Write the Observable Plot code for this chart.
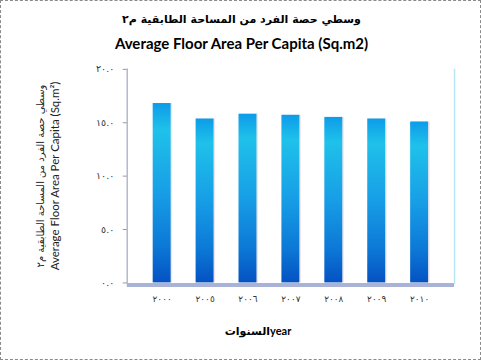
<!DOCTYPE html>
<html>
<head>
<meta charset="utf-8">
<script src="https://cdn.jsdelivr.net/npm/d3@7"></script>
<script src="https://cdn.jsdelivr.net/npm/@observablehq/plot@0.6"></script>
<style>
  body { margin: 0; background: #fff; }
  #wrap { position: relative; width: 481px; height: 360px; box-sizing: border-box; border: 1px dashed #8a8a8a; overflow: hidden; background: #fff; }
  #chart { position: absolute; left: -1px; top: -1px; }
  .t { position: absolute; white-space: nowrap; color: #000; }
  #t1 { left: 0; width: 481px; top: 12px; text-align: center; font: bold 11px "DejaVu Sans", sans-serif; direction: rtl; }
  #t2 { left: 0; width: 481px; top: 33px; text-align: center; font: bold 15px Lato, "Open Sans", sans-serif; }
  #ylab { left: 47px; top: 175px; transform: translate(-50%, -50%) rotate(-90deg); text-align: center; font: 11.5px Lato, "DejaVu Sans", sans-serif; line-height: 14px; color: #222; }
  #ylab .ar { font-family: "DejaVu Sans", sans-serif; font-size: 10px; direction: rtl; display: block; }
  #xlab { left: 257px; top: 323px; transform: translateX(-50%); font: bold 11px Lato, "DejaVu Sans", sans-serif; }
</style>
</head>
<body>
<div id="wrap">
  <div id="chart"></div>
  <div class="t" id="t1"></div>
  <div class="t" id="t2"></div>
  <div class="t" id="ylab"></div>
  <div class="t" id="xlab"></div>
</div>
<script>
const years = ["2000", "2005", "2006", "2007", "2008", "2009", "2010"];
const yearLabels = ["٢٠٠٠", "٢٠٠٥", "٢٠٠٦", "٢٠٠٧", "٢٠٠٨", "٢٠٠٩", "٢٠١٠"];
const values = [16.8, 15.35, 15.8, 15.7, 15.5, 15.35, 15.07];
const yTicks = [0, 5, 10, 15, 20];
const yTickLabels = ["٠.٠", "٥.٠", "١٠.٠", "١٥.٠", "٢٠.٠"];
const titleArabic = "وسطي حصة الفرد من المساحة الطابقية م٢";
const titleEnglish = "Average Floor Area Per Capita (Sq.m2)";
const yLabelArabic = "وسطي حصة الفرد من المساحة الطابقية م٢";
const yLabelEnglish = "Average Floor Area Per Capita (Sq.m²)";
const xLabel = "السنواتyear";

const data = years.map((y, i) => ({year: y, value: values[i]}));

document.getElementById("t1").textContent = titleArabic;
document.getElementById("t2").textContent = titleEnglish;
document.getElementById("xlab").textContent = xLabel;
const yl = document.getElementById("ylab");
const s1 = document.createElement("span"); s1.className = "ar"; s1.textContent = yLabelArabic;
const s2 = document.createElement("span"); s2.textContent = yLabelEnglish;
yl.appendChild(s1); yl.appendChild(s2);

const chart = Plot.plot({
  width: 481,
  height: 360,
  marginTop: 69,
  marginBottom: 77,
  marginLeft: 127,
  marginRight: 26,
  style: {background: "transparent", fontFamily: "DejaVu Sans, sans-serif"},
  x: {domain: years, padding: 0.58, label: null},
  y: {domain: [0, 20], label: null},
  marks: [
    Plot.frame({anchor: "right", stroke: "#b6e6f4", strokeWidth: 1.5}),
    Plot.frame({anchor: "left", stroke: "#b3b8cc", strokeWidth: 1.5}),
    Plot.barY(data, {x: "year", y: "value", dx: 1.5, fill: "#e4d2d8", fillOpacity: 0.6}),
    Plot.barY(data, {x: "year", y: "value", fill: "url(#barGrad)"}),
    Plot.ruleY([0], {stroke: "#a9b3d8", strokeWidth: 4, dy: 2}),
    Plot.axisX({tickSize: 0, tickPadding: 13, fontSize: 9, fill: "#333",
      tickFormat: d => yearLabels[years.indexOf(d)]}),
    Plot.axisY({ticks: yTicks, tickSize: 4, tickPadding: 9, fontSize: 9.5, fill: "#333", stroke: "#999",
      tickFormat: d => yTickLabels[yTicks.indexOf(d)]})
  ]
});

const svg = d3.select(chart);
const defs = svg.insert("defs", ":first-child");
const g = defs.append("linearGradient").attr("id", "barGrad").attr("x1", 0).attr("y1", 0).attr("x2", 0).attr("y2", 1);
[[0, "#0d9ce9"], [0.15, "#1fc1ea"], [0.5, "#179ee6"], [0.8, "#0c78d6"], [1, "#0452c2"]].forEach(([o, c]) =>
  g.append("stop").attr("offset", o).attr("stop-color", c));
svg.selectAll('[aria-label="x-axis tick label"] text').attr("letter-spacing", "2.5px");
svg.selectAll('[aria-label="y-axis tick label"] text').attr("letter-spacing", "3px");
document.getElementById("chart").appendChild(chart);
</script>
</body>
</html>
